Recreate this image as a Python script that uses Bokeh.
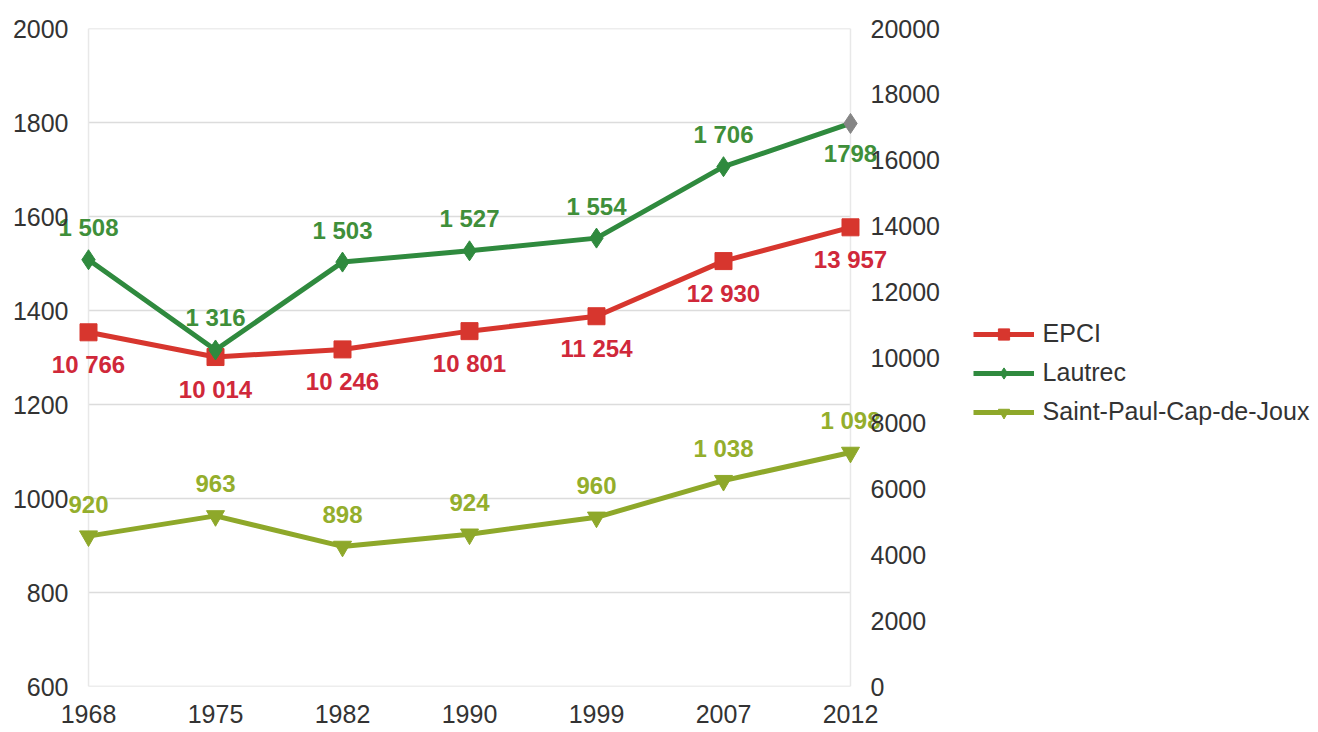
from bokeh.plotting import figure
from bokeh.models import (ColumnDataSource, LinearAxis, Range1d, FixedTicker,
                          Legend, LegendItem)
from bokeh.core.properties import value
from bokeh.embed import file_html
from bokeh.resources import INLINE

# Census years and population counts
years = ["1968", "1975", "1982", "1990", "1999", "2007", "2012"]
epci = [10766, 10014, 10246, 10801, 11254, 12930, 13957]
lautrec = [1508, 1316, 1503, 1527, 1554, 1706, 1798]
saint_paul = [920, 963, 898, 924, 960, 1038, 1098]

left_ticks = [600, 800, 1000, 1200, 1400, 1600, 1800, 2000]
right_ticks = [0, 2000, 4000, 6000, 8000, 10000, 12000, 14000, 16000, 18000, 20000]

FONT = "Liberation Sans"
RED, RED_TXT = "#d7362e", "#d0283a"
GREEN, GREEN_TXT = "#2f8a3e", "#3f8f3a"
OLIVE, OLIVE_TXT = "#8ea82a", "#94ae2c"
GRID = "#dcdcdc"


def fmt(v):
    return f"{v:,}".replace(",", " ")


idx = list(range(len(years)))
first, last = idx[0], idx[-1]
lautrec_labels = [fmt(v) for v in lautrec]
lautrec_labels[-1] = str(lautrec[-1])

src_epci = ColumnDataSource(dict(x=idx, y=epci, t=[fmt(v) for v in epci]))
src_lautrec = ColumnDataSource(dict(
    x=idx, y=lautrec, t=lautrec_labels,
    c=[GREEN] * (len(years) - 1) + ["#858585"],
))
src_sp = ColumnDataSource(dict(x=idx, y=saint_paul, t=[fmt(v) for v in saint_paul]))

# The frame is a little wider than the category span so that the value
# labels on the first and last year are not clipped.
pad_l, pad_r = 0.378, 0.315
p = figure(frame_width=850, frame_height=658,
           output_backend="svg", toolbar_location=None,
           x_range=Range1d(first - pad_l, last + pad_r),
           y_range=Range1d(left_ticks[0], left_ticks[-1]),
           min_border_left=40, min_border_right=428, min_border_top=28,
           min_border_bottom=46)
p.extra_y_ranges = {"epci": Range1d(right_ticks[0], right_ticks[-1])}

p.background_fill_color = "white"
p.border_fill_color = "white"
p.outline_line_color = None
p.xgrid.grid_line_color = None
p.ygrid.grid_line_color = None

# Horizontal grid lines and the two side rules, limited to the year span
p.segment(x0=[first] * len(left_ticks), x1=[last] * len(left_ticks),
          y0=left_ticks, y1=left_ticks, line_color=GRID, line_width=1.5)
p.segment(x0=[first, last], x1=[first, last],
          y0=[left_ticks[0]] * 2, y1=[left_ticks[-1]] * 2,
          line_color="#e8e8e8", line_width=1.5)


def style_axis(ax, standoff):
    ax.axis_line_color = None
    ax.major_tick_line_color = None
    ax.minor_tick_line_color = None
    ax.major_tick_out = 0
    ax.major_tick_in = 0
    ax.minor_tick_out = 0
    ax.major_label_text_font = FONT
    ax.major_label_text_font_size = "25px"
    ax.major_label_text_color = "#333333"
    ax.major_label_standoff = standoff


style_axis(p.xaxis[0], 18)
p.xaxis[0].ticker = FixedTicker(ticks=idx)
p.xaxis[0].major_label_overrides = {i: y for i, y in zip(idx, years)}

style_axis(p.yaxis[0], -28)
p.yaxis[0].ticker = FixedTicker(ticks=left_ticks)

right = LinearAxis(y_range_name="epci", ticker=FixedTicker(ticks=right_ticks))
style_axis(right, -20)
p.add_layout(right, "right")

# Series
l_epci = p.line("x", "y", source=src_epci, y_range_name="epci",
                line_color=RED, line_width=5)
m_epci = p.scatter("x", "y", source=src_epci, y_range_name="epci",
                   marker="square", size=17, fill_color=RED, line_color=RED)

l_lau = p.line("x", "y", source=src_lautrec, line_color=GREEN, line_width=5)
m_lau = p.scatter("x", "y", source=src_lautrec, marker="diamond", size=20,
                  fill_color="c", line_color="c")

l_sp = p.line("x", "y", source=src_sp, line_color=OLIVE, line_width=5)
m_sp = p.scatter("x", "y", source=src_sp, marker="inverted_triangle", size=18,
                 fill_color=OLIVE, line_color=OLIVE)

# Value labels
common = dict(text_font=value(FONT), text_font_size="24px",
              text_font_style="bold", text_align="center",
              text_baseline="middle")
p.text("x", "y", text="t", source=src_epci, y_range_name="epci",
       y_offset=32, text_color=RED_TXT, **common)

lau_above = ColumnDataSource(dict(x=idx[:-1], y=lautrec[:-1], t=lautrec_labels[:-1]))
lau_below = ColumnDataSource(dict(x=idx[-1:], y=lautrec[-1:], t=lautrec_labels[-1:]))
p.text("x", "y", text="t", source=lau_above, y_offset=-32,
       text_color=GREEN_TXT, **common)
p.text("x", "y", text="t", source=lau_below, y_offset=30,
       text_color=GREEN_TXT, **common)

p.text("x", "y", text="t", source=src_sp, y_offset=-32,
       text_color=OLIVE_TXT, **common)

legend = Legend(items=[
    LegendItem(label="EPCI", renderers=[l_epci, m_epci]),
    LegendItem(label="Lautrec", renderers=[l_lau, m_lau]),
    LegendItem(label="Saint-Paul-Cap-de-Joux", renderers=[l_sp, m_sp]),
], location=(-190, 260))
legend.label_text_font = FONT
legend.label_text_font_size = "25px"
legend.label_text_color = "#333333"
legend.glyph_width = 61
legend.glyph_height = 28
legend.label_height = 28
legend.label_standoff = 9
legend.spacing = 10
legend.padding = 0
legend.margin = 0
legend.border_line_color = None
legend.background_fill_alpha = 0
p.add_layout(legend, "right")

open("out.html", "w").write(file_html(p, INLINE))
